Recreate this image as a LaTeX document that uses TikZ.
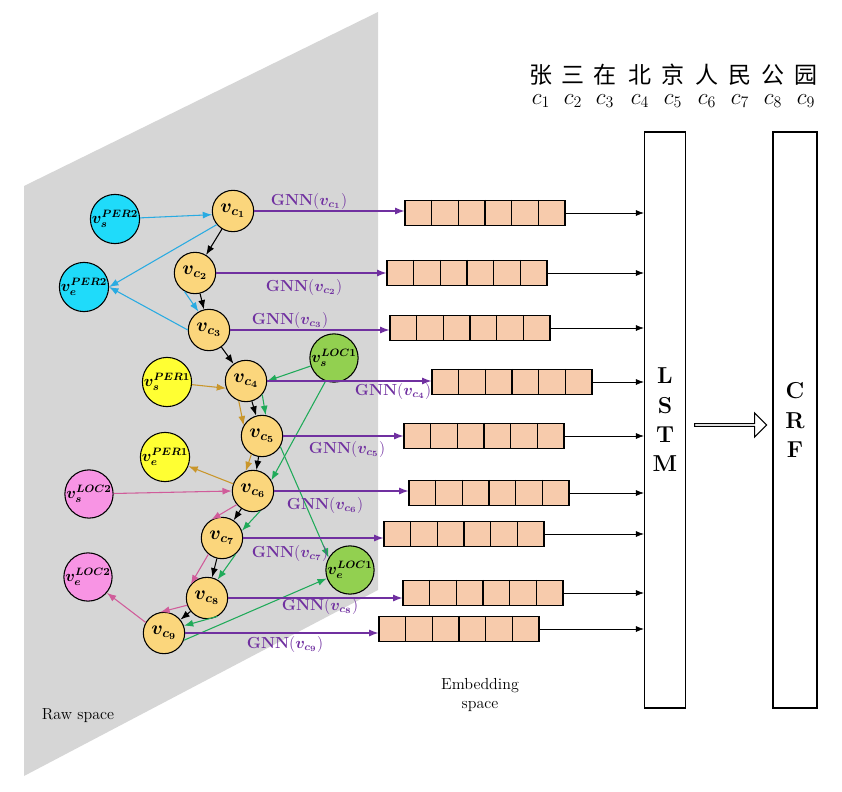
\documentclass[tikz,border=0pt]{standalone}
\usepackage{amsmath,bm}
\usepackage{fontspec}
\newfontfamily\cjk{Noto Sans CJK SC}
\usetikzlibrary{arrows.meta,shapes.arrows,positioning,calc}
\definecolor{cNode}{HTML}{FBD67C}
\definecolor{cPerTwo}{HTML}{1FDBFA}
\definecolor{cPerOne}{HTML}{FFFF33}
\definecolor{cLocOne}{HTML}{92D050}
\definecolor{cLocTwo}{HTML}{F894E4}
\definecolor{cCell}{HTML}{F7CBAC}
\definecolor{gnnLine}{HTML}{7030A0}
\definecolor{perTwoLine}{HTML}{29ABE2}
\definecolor{perOneLine}{HTML}{C9962B}
\definecolor{locOneLine}{HTML}{1FAA59}
\definecolor{locTwoLine}{HTML}{D05C9A}
\tikzset{
  charnode/.style={circle,draw,thick,fill=cNode,minimum size=31pt,inner sep=0pt,font=\Large},
  entnode/.style={circle,draw,thick,minimum size=36pt,inner sep=0pt,font=\large},
  embrow/.style={draw,thick,fill=cCell,minimum width=120pt,minimum height=19pt,inner sep=0pt},
  gnn/.style={gnnLine,thick,-{Latex[length=7pt]}},
  gnnlabel/.style={text=gnnLine,font=\large\bfseries},
  link/.style={thick,-{Latex[length=7pt]}}
}
\begin{document}
\begin{tikzpicture}[x=0.75pt,y=-0.75pt]
\useasboundingbox (0,0) rectangle (842,792);

% raw space plane
\fill[black!16] (24,186) -- (378,12) -- (378,590) -- (24,776) -- cycle;
\node[font=\large] at (78,716) {Raw space};
\node[align=center,font=\large] at (480,695) {Embedding\\space};

% character nodes
\foreach \i/\x/\y in {1/233/211,2/195/273,3/209/330,4/246/381,5/262/436,6/253/491,7/222/538,8/207/598,9/164/633}
  \node[charnode] (c\i) at (\x,\y) {$\bm{v_{c_{\i}}}$};

% entity nodes
\node[entnode,fill=cPerTwo] (sper2) at (115,219) {$\bm{v_s^{PER2}}$};
\node[entnode,fill=cPerTwo] (eper2) at (84,287) {$\bm{v_e^{PER2}}$};
\node[entnode,fill=cPerOne] (sper1) at (167,382) {$\bm{v_s^{PER1}}$};
\node[entnode,fill=cPerOne] (eper1) at (165,457) {$\bm{v_e^{PER1}}$};
\node[entnode,fill=cLocOne] (sloc1) at (334,358) {$\bm{v_s^{LOC1}}$};
\node[entnode,fill=cLocOne] (eloc1) at (350,570) {$\bm{v_e^{LOC1}}$};
\node[entnode,fill=cLocTwo] (sloc2) at (89,494) {$\bm{v_s^{LOC2}}$};
\node[entnode,fill=cLocTwo] (eloc2) at (88,577) {$\bm{v_e^{LOC2}}$};

% sequence edges
\foreach \a/\b in {1/2,2/3,3/4,4/5,5/6,6/7,7/8,8/9}
  \draw[link] (c\a) -- (c\b);

% entity edges
\draw[link,perTwoLine] (sper2) -- (c1.190);
\draw[link,perTwoLine] (c1.220) -- (eper2.east);
\draw[link,perTwoLine] (c2.240) -- (c3.120);
\draw[link,perTwoLine] (c3.180) -- (eper2.east);
\draw[link,perOneLine] (sper1) -- (c4.200);
\draw[link,perOneLine] (c4.250) -- (c5.150);
\draw[link,perOneLine] (c5.240) -- (c6.110);
\draw[link,perOneLine] (c6.160) -- (eper1);
\draw[link,locOneLine] (sloc1) -- (c4.east);
\draw[link,locOneLine] (sloc1.250) -- (c6.30);
\draw[link,locOneLine] (c4.320) -- (c5.80);
\draw[link,locOneLine] (c5.330) -- (eloc1.150);
\draw[link,locOneLine] (c6.290) -- (c7.20);
\draw[link,locOneLine] (c7.310) -- (c8.60);
\draw[link,locOneLine] (c8.300) -- (c9.20);
\draw[link,locOneLine] (c9.340) -- (eloc1.200);
\draw[link,locTwoLine] (sloc2) -- (c6.west);
\draw[link,locTwoLine] (c6.220) -- (c7.120);
\draw[link,locTwoLine] (c7.230) -- (c8.140);
\draw[link,locTwoLine] (c8.200) -- (c9.100);
\draw[link,locTwoLine] (c9.150) -- (eloc2.320);

% LSTM and CRF
\node[draw,thick,minimum width=31pt,minimum height=432pt,font=\LARGE\bfseries,align=center] (lstm) at (665,420) {L\\S\\T\\M};
\node[draw,thick,minimum width=33pt,minimum height=432pt,font=\LARGE\bfseries,align=center] (crf) at (795,420) {C\\R\\F};
\node[draw,thick,single arrow,minimum height=54pt,minimum width=18pt,single arrow head extend=3pt,inner sep=0pt] (hollow) at (730,425) {};

% embeddings
\foreach \i/\x/\y/\lx/\ly in {1/485/213/309/201,2/467/273/304/287,3/470/328/290/320,4/512/382/393/391,5/484/436/347/449,6/489/493/325/505,7/464/534/290/553,8/483/593/320/606,9/459/629/285/644}
{
  \node[embrow] (b\i) at (\x,\y) {};
  \foreach \k in {1,...,5}
    \draw[thick] ($(b\i.north west)!\k/6!(b\i.north east)$) -- ($(b\i.south west)!\k/6!(b\i.south east)$);
  \draw[gnn] (c\i.east) -- (c\i.east -| b\i.west);
  \node[gnnlabel] (g\i) at (\lx,\ly) {GNN$(\bm{v_{c_{\i}}})$};
  \draw[-{Latex[length=6pt]}] (b\i.east) -- (b\i.east -| lstm.west);
}

% characters
\foreach \ch/\x [count=\i] in {张/541,三/573,在/605,北/640,京/673,人/707,民/740,公/773,园/806}
{
  \node[font=\cjk\LARGE] (t\i) at (\x,75) {\ch};
  \node[font=\LARGE] (s\i) at (\x,101) {$c_{\i}$};
}
\end{tikzpicture}
\end{document}
